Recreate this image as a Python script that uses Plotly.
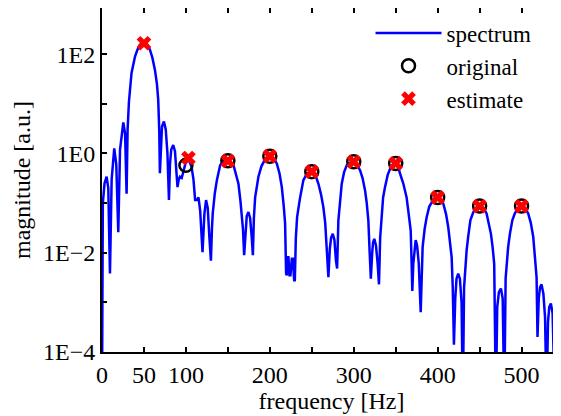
import plotly.graph_objects as go

# spectrum (frequency in Hz, magnitude in a.u.)
freq = [0, 1, 3, 5.5, 7.5, 9.5, 11.5, 14.6, 17, 19.4, 21.5, 25.4, 27.5, 29.3, 30.5, 32.1,
        35.2, 39.3, 42, 45.2, 50, 53.5, 57.1, 60, 63.1, 65.5, 67, 68.2, 69, 70, 71.5, 73.8,
        76, 78, 79.8, 81, 82.5, 84.9, 87, 88.8, 90, 91.5, 92.9, 95, 97, 99.5, 102, 104,
        106.7, 109, 111, 113, 115, 117, 119.8, 122, 124, 126, 128, 129.8, 131, 132, 134.5,
        136.9, 140.8, 144.5, 148.8, 152.5, 156.7, 160, 162.6, 165, 166.7, 168, 169.4, 171,
        172.5, 174.5, 176.5, 178.5, 179.8, 181, 182.5, 186.4, 190, 195, 200.4, 204.5, 208.3,
        211.5, 214.3, 216.5, 218.2, 219.4, 220.2, 221.4, 222.2, 223.4, 224.6, 226.2, 227.4,
        229, 229.8, 231, 232.5, 236.1, 240, 244.5, 249.2, 253.5, 257.9, 261, 263.8, 266, 268,
        269.8, 271.5, 273, 275, 277, 278.8, 280.2, 281.7, 283.5, 285.7, 288.5, 291.7, 295.5,
        299.5, 303.5, 307.5, 310.5, 313.5, 315.5, 317.4, 319, 320.4, 322, 323, 324.5, 326.5,
        328.5, 330.1, 331.5, 333.3, 335, 337.3, 340.5, 344.5, 349.2, 353, 355, 359, 363,
        365.5, 367.9, 369, 369.8, 371, 372.5, 373.8, 375.5, 377.5, 379.8, 381, 382.1, 384.5,
        386.9, 390, 392.9, 396, 399.5, 403, 406.7, 410, 412.6, 415, 416.7, 418, 419.4, 421,
        422.5, 424.5, 426.5, 428.5, 430, 431.5, 432.5, 434.5, 436.4, 439, 442.4, 446, 450.4,
        454.5, 458.3, 461, 463.5, 465.5, 467.4, 469.4, 471, 473, 475.4, 477.5, 479.4, 481,
        482.1, 484, 486.1, 489, 492, 496, 500, 504, 507.9, 511, 513.9, 516, 517.9, 519, 520.5,
        522, 523.8, 526, 528, 529.8, 531.5, 533, 534.9, 537, 539.6, 541.5, 543, 544.4, 546, 548]
spectrum = [1e-5, 0.1, 0.25, 0.34, 0.2, 0.0038, 0.3, 1.26, 0.6, 0.026, 1.2, 4.2, 2.5, 0.155, 3, 11,
            42, 89, 120, 155, 170, 160, 123, 85, 48, 25, 12, 3, 0.4, 1.5, 3.5, 4.4,
            3, 1.0, 0.115, 0.6, 1.2, 1.48, 1.1, 0.4, 0.21, 0.3, 0.34, 0.32, 0.45, 0.63, 0.72, 0.7,
            0.54, 0.3, 0.115, 0.115, 0.13, 0.07, 0.0102, 0.06, 0.115, 0.08, 0.02, 0.0069, 0.03, 0.063, 0.16,
            0.29, 0.58, 0.7, 0.73, 0.7, 0.58, 0.38, 0.245, 0.11, 0.062, 0.03, 0.0089, 0.03,
            0.055, 0.066, 0.05, 0.02, 0.0089, 0.05, 0.13, 0.34, 0.55, 0.8, 0.89, 0.8, 0.63,
            0.4, 0.21, 0.09, 0.039, 0.0038, 0.0035, 0.0081, 0.0081, 0.0035, 0.0035, 0.0076, 0.0076,
            0.0028, 0.0028, 0.02, 0.052, 0.13, 0.29, 0.4, 0.43, 0.4, 0.245, 0.15, 0.083, 0.04, 0.012,
            0.0032, 0.012, 0.02, 0.024, 0.018, 0.007, 0.0048, 0.045, 0.12, 0.245, 0.42, 0.58, 0.65,
            0.68, 0.6, 0.46, 0.32, 0.18, 0.1, 0.045, 0.01, 0.003, 0.01, 0.016, 0.019, 0.014,
            0.006, 0.0023, 0.02, 0.071, 0.13, 0.21, 0.37, 0.55, 0.63, 0.55, 0.4, 0.25, 0.13,
            0.06, 0.028, 0.006, 0.0017, 0.006, 0.014, 0.018, 0.014, 0.006, 0.00063, 0.006, 0.013, 0.03,
            0.052, 0.085, 0.105, 0.125, 0.13, 0.12, 0.098, 0.06, 0.033, 0.015, 0.0081, 0.002, 0.00014, 0.0012,
            0.003, 0.0038, 0.003, 0.001, 1e-5, 0.002, 0.0044, 0.011, 0.021, 0.045, 0.065, 0.08, 0.087,
            0.08, 0.062, 0.04, 0.024, 0.013, 0.006, 1e-5, 0.0008, 0.0016, 0.0019, 0.0012, 1e-5, 0.003,
            0.006, 0.013, 0.024, 0.045, 0.062, 0.08, 0.087, 0.08, 0.062, 0.04, 0.021, 0.009, 0.0032, 0.0002, 0.0012,
            0.002, 0.0023, 0.0015, 0.0005, 1e-5, 0.0004, 0.0008, 0.00095, 0.0006, 1e-5, 0.0003, 0.0006, 0.00074, 0.0006, 0.0003]

# harmonic amplitudes
orig_f = [100, 150, 200, 250, 300, 350, 400, 450, 500]
orig_mag = [0.575, 0.71, 0.88, 0.43, 0.68, 0.63, 0.13, 0.087, 0.087]
est_f = [50, 103, 150, 200, 250, 300, 350, 400, 450, 500]
est_mag = [166, 0.81, 0.71, 0.88, 0.43, 0.68, 0.63, 0.13, 0.087, 0.087]

y_ticks = [1e-4, 1e-3, 1e-2, 1e-1, 1, 1e1, 1e2]
y_text = ["1E\u22124", "", "1E\u22122", "", "1E0", "", "1E2"]
x_ticks = [0, 50, 100, 150, 200, 250, 300, 350, 400, 450, 500]
x_text = ["0", "50", "100", "", "200", "", "300", "", "400", "", "500"]

family = "Liberation Serif"
font = dict(family=family, size=24, color="black")
title_font = dict(family=family, size=24, color="black")

fig = go.Figure()
fig.add_trace(go.Scatter(x=freq, y=spectrum, name="spectrum", mode="lines",
                         line=dict(color="#0000ff", width=2.5)))
fig.add_trace(go.Scatter(x=orig_f, y=orig_mag, name="original", mode="markers",
                         marker=dict(symbol="circle-open", size=13, color="black",
                                     line=dict(width=2.5, color="black"))))
fig.add_trace(go.Scatter(x=est_f, y=est_mag, name="estimate", mode="markers",
                         marker=dict(symbol="x", size=13, color="#ff0000",
                                     line=dict(width=0))))

# the page puts the figure 8px in from the top-left corner
fig.update_layout(
    width=553, height=408,
    margin=dict(l=94, r=0, t=0, b=64, autoexpand=False),
    plot_bgcolor="white", paper_bgcolor="white",
    font=font,
    showlegend=True,
    legend=dict(x=0.585, xanchor="left", y=0.99, yanchor="top",
                bgcolor="rgba(0,0,0,0)", itemwidth=66, tracegroupgap=0,
                font=dict(family=family, size=23, color="black")),
)
fig.update_xaxes(range=[0, 547], tickvals=x_ticks, ticktext=x_text,
                 ticks="inside", ticklen=5, tickwidth=1.5, tickcolor="black",
                 showline=True, linecolor="black", linewidth=2, mirror="ticks",
                 showgrid=False, zeroline=False, automargin=False,
                 title=dict(text="frequency [Hz]", standoff=5, font=title_font))
fig.update_yaxes(type="log", range=[-4, 2.93], tickvals=y_ticks, ticktext=y_text,
                 ticks="inside", ticklen=5, tickwidth=1.5, tickcolor="black",
                 showline=True, linecolor="black", linewidth=2, mirror="ticks",
                 showgrid=False, zeroline=False, automargin=False,
                 title=dict(text="magnitude [a.u.]", standoff=6, font=title_font))

fig.write_html("out.html")
